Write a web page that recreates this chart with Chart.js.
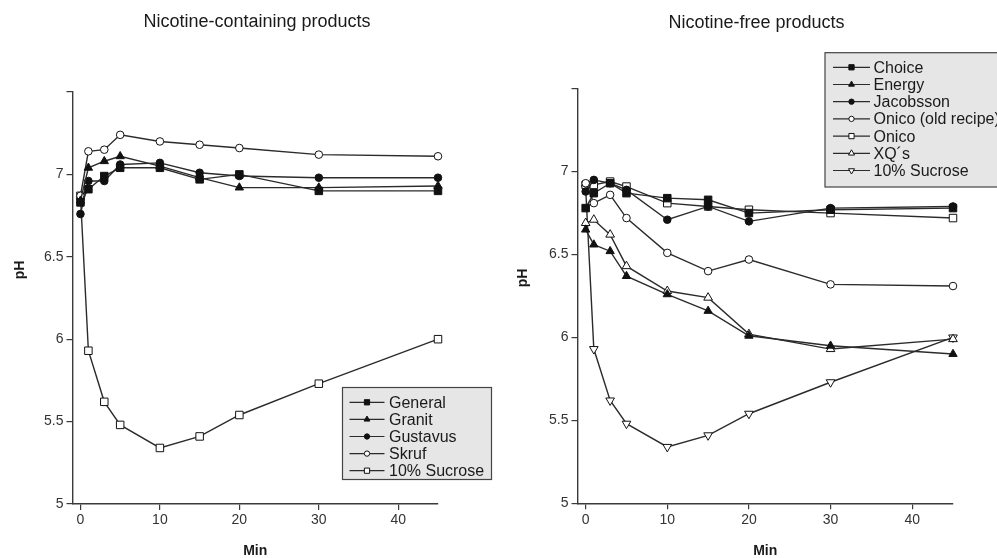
<!DOCTYPE html>
<html>
<head>
<meta charset="utf-8">
<title>pH curves</title>
<script src="https://cdn.jsdelivr.net/npm/chart.js@4.4.0/dist/chart.umd.min.js"></script>
<style>
  html, body { margin: 0; padding: 0; background: #fff; overflow: hidden; }
  #leftPanel { position: absolute; left: 0; top: 0; }
  #rightPanel { position: absolute; left: 500px; top: 0; }
</style>
</head>
<body>
<canvas id="leftPanel" width="500" height="558"></canvas>
<canvas id="rightPanel" width="497" height="558"></canvas>
<script>
// ============================================
// Data (pH)
// ============================================

const minutes = [0, 1, 3, 5, 10, 15, 20, 30, 45];
const xTicks = [0, 10, 20, 30, 40];
const yTicks = [5, 5.5, 6, 6.5, 7, 7.5];

// nicotine-containing products
const generalPH  = [6.83, 6.91, 6.99, 7.04, 7.04, 6.97, 7.00, 6.90, 6.90];
const granitPH   = [6.84, 7.04, 7.08, 7.11, 7.05, 6.98, 6.92, 6.92, 6.93];
const gustavusPH = [6.76, 6.96, 6.96, 7.06, 7.07, 7.01, 6.99, 6.98, 6.98];
const skrufPH    = [6.87, 7.14, 7.15, 7.24, 7.20, 7.18, 7.16, 7.12, 7.11];
const sucroseLeftPH = [6.87, 5.93, 5.62, 5.48, 5.34, 5.41, 5.54, 5.73, 6.00];

// nicotine-free products
const choicePH    = [6.78, 6.87, 6.93, 6.87, 6.84, 6.83, 6.75, 6.77, 6.78];
const energyPH    = [6.65, 6.56, 6.52, 6.37, 6.26, 6.16, 6.01, 5.95, 5.90];
const jacobssonPH = [6.88, 6.95, 6.93, 6.89, 6.71, 6.79, 6.70, 6.78, 6.79];
const onicoOldPH  = [6.93, 6.81, 6.86, 6.72, 6.51, 6.40, 6.47, 6.32, 6.31];
const onicoPH     = [6.92, 6.92, 6.94, 6.91, 6.81, 6.79, 6.77, 6.75, 6.72];
const xqPH        = [6.69, 6.71, 6.62, 6.43, 6.28, 6.24, 6.02, 5.93, 5.99];
const sucroseRightPH = [6.90, 5.93, 5.62, 5.48, 5.34, 5.41, 5.54, 5.73, 6.00];

const leftLabels  = ["General", "Granit", "Gustavus", "Skruf", "10% Sucrose"];
const rightLabels = ["Choice", "Energy", "Jacobsson", "Onico (old recipe)", "Onico", "XQ\u00b4s", "10% Sucrose"];

// ============================================
// Styles
// ============================================

const FONT = '"Liberation Sans", Arial, Helvetica, sans-serif';
const lineColor = "#2b2b2b";
const axisColor = "#3a3a3a";
const tickColor = "#333";
const boxFill = "#e6e6e6";

// marker looks, by name
const markers = {
    square:     { pointStyle: "rect",     radius: 5.3, fill: "#111", rotation: 0 },
    triangle:   { pointStyle: "triangle", radius: 4.8, fill: "#111", rotation: 0 },
    circle:     { pointStyle: "circle",   radius: 3.8, fill: "#111", rotation: 0 },
    openCircle: { pointStyle: "circle",   radius: 3.8, fill: "#fff", rotation: 0 },
    openSquare: { pointStyle: "rect",     radius: 5.3, fill: "#fff", rotation: 0 },
    openTri:    { pointStyle: "triangle", radius: 5,   fill: "#fff", rotation: 0 },
    openTriDown:{ pointStyle: "triangle", radius: 5,   fill: "#fff", rotation: 180 },
};

const leftMarkers  = ["square", "triangle", "circle", "openCircle", "openSquare"];
const rightMarkers = ["square", "triangle", "circle", "openCircle", "openSquare", "openTri", "openTriDown"];

function makeDataset(label, values, markerName) {
    const m = markers[markerName];
    return {
        label,
        data: minutes.map((t, i) => ({ x: t, y: values[i] })),
        borderColor: lineColor,
        borderWidth: 1.4,
        pointStyle: m.pointStyle,
        pointRotation: m.rotation,
        pointRadius: m.radius,
        pointBackgroundColor: m.fill,
        pointBorderColor: "#111",
        pointBorderWidth: 1,
        tension: 0,
        fill: false,
        clip: false,
        markerName,
    };
}

// ============================================
// Plugins: panel texts + boxed legend
// ============================================

const panelText = {
    id: "panelText",
    afterDraw(chart, args, opts) {
        const ctx = chart.ctx;
        const area = chart.chartArea;
        ctx.save();
        ctx.fillStyle = "#1a1a1a";
        ctx.textAlign = "center";
        ctx.textBaseline = "middle";

        ctx.font = `18px ${FONT}`;
        ctx.fillText(opts.title, opts.titleX, opts.titleY);

        ctx.font = `bold 14px ${FONT}`;
        ctx.fillText("Min", (area.left + area.right) / 2, opts.minY);

        ctx.translate(opts.phX, opts.phY);
        ctx.rotate(-Math.PI / 2);
        ctx.fillText("pH", 0, 0);
        ctx.restore();
    },
};

function drawMarker(ctx, markerName, x, y, scale) {
    const m = markers[markerName];
    ctx.fillStyle = m.fill;
    ctx.strokeStyle = "#111";
    ctx.lineWidth = 1;
    if (Chart.helpers && Chart.helpers.drawPoint) {
        Chart.helpers.drawPoint(ctx, {
            pointStyle: m.pointStyle,
            rotation: m.rotation,
            radius: m.radius * scale,
            borderWidth: 1,
        }, x, y);
    } else {
        ctx.beginPath();
        ctx.arc(x, y, m.radius * scale, 0, Math.PI * 2);
        ctx.fill();
        ctx.stroke();
    }
}

const boxLegend = {
    id: "boxLegend",
    afterDraw(chart, args, opts) {
        const ctx = chart.ctx;
        const sets = chart.data.datasets;
        ctx.save();
        ctx.fillStyle = boxFill;
        ctx.strokeStyle = "#444";
        ctx.lineWidth = 1.2;
        ctx.fillRect(opts.x, opts.y, opts.w, opts.h);
        ctx.strokeRect(opts.x, opts.y, opts.w, opts.h);

        ctx.font = `16px ${FONT}`;
        ctx.textBaseline = "middle";
        ctx.textAlign = "left";

        sets.forEach((ds, i) => {
            const rowY = opts.firstRow + i * opts.rowGap;
            const x0 = opts.x + opts.lineStart;
            const x1 = opts.x + opts.lineEnd;

            ctx.strokeStyle = lineColor;
            ctx.lineWidth = 1.2;
            ctx.beginPath();
            ctx.moveTo(x0, rowY);
            ctx.lineTo(x1, rowY);
            ctx.stroke();

            drawMarker(ctx, ds.markerName, (x0 + x1) / 2, rowY, 0.7);

            ctx.fillStyle = "#1a1a1a";
            ctx.fillText(ds.label, opts.x + opts.textStart, rowY + 1);
        });
        ctx.restore();
    },
};

// ============================================
// Chart builder
// ============================================

function buildPanel(canvasId, datasets, cfg) {
    const ctx = document.getElementById(canvasId).getContext("2d");

    return new Chart(ctx, {
        type: "line",
        data: { datasets },
        options: {
            responsive: false,
            animation: false,
            events: [],
            layout: { padding: cfg.padding },
            plugins: {
                legend: { display: false },
                tooltip: { enabled: false },
                title: { display: false },
                panelText: cfg.text,
                boxLegend: cfg.legend,
            },
            scales: {
                x: {
                    type: "linear",
                    min: -1,
                    max: 45,
                    afterBuildTicks: (s) => { s.ticks = xTicks.map((v) => ({ value: v })); },
                    afterFit: (s) => { s.height = cfg.xHeight; },
                    grid: { drawOnChartArea: false, drawTicks: true, tickLength: 6, color: axisColor, lineWidth: 1.2 },
                    border: { display: true, color: axisColor, width: 1.4 },
                    ticks: {
                        color: tickColor,
                        font: { family: FONT, size: 14 },
                        padding: 2,
                        maxRotation: 0,
                        autoSkip: false,
                    },
                },
                y: {
                    type: "linear",
                    min: 5,
                    max: 7.5,
                    afterBuildTicks: (s) => { s.ticks = yTicks.map((v) => ({ value: v })); },
                    afterFit: (s) => { s.width = cfg.yWidth; },
                    grid: { drawOnChartArea: false, drawTicks: true, tickLength: 6, color: axisColor, lineWidth: 1.2 },
                    border: { display: true, color: axisColor, width: 1.4 },
                    ticks: {
                        color: tickColor,
                        font: { family: FONT, size: 14 },
                        padding: 3,
                        autoSkip: false,
                        callback: (v) => (v === 7.5 ? "" : String(v)),
                    },
                },
            },
        },
        plugins: [panelText, boxLegend],
    });
}

document.addEventListener("DOMContentLoaded", () => {

    const leftSets = [generalPH, granitPH, gustavusPH, skrufPH, sucroseLeftPH]
        .map((vals, i) => makeDataset(leftLabels[i], vals, leftMarkers[i]));

    const rightSets = [choicePH, energyPH, jacobssonPH, onicoOldPH, onicoPH, xqPH, sucroseRightPH]
        .map((vals, i) => makeDataset(rightLabels[i], vals, rightMarkers[i]));

    buildPanel("leftPanel", leftSets, {
        padding: { left: 0, right: 62, top: 92, bottom: 0 },
        yWidth: 72.5,
        xHeight: 54,
        text: { title: "Nicotine-containing products", titleX: 257, titleY: 22, phX: 20, phY: 270, minY: 551 },
        legend: { x: 342.5, y: 387.5, w: 149, h: 92, firstRow: 402.3, rowGap: 17.1, lineStart: 7, lineEnd: 42, textStart: 46.5 },
    });

    buildPanel("rightPanel", rightSets, {
        padding: { left: 0, right: 44, top: 88.7, bottom: 0 },
        yWidth: 77.5,
        xHeight: 54.7,
        text: { title: "Nicotine-free products", titleX: 256.5, titleY: 23, phX: 23, phY: 278, minY: 551 },
        legend: { x: 325, y: 52.7, w: 200, h: 134.3, firstRow: 67.3, rowGap: 17.2, lineStart: 8, lineEnd: 45, textStart: 48.5 },
    });
});
</script>
</body>
</html>
